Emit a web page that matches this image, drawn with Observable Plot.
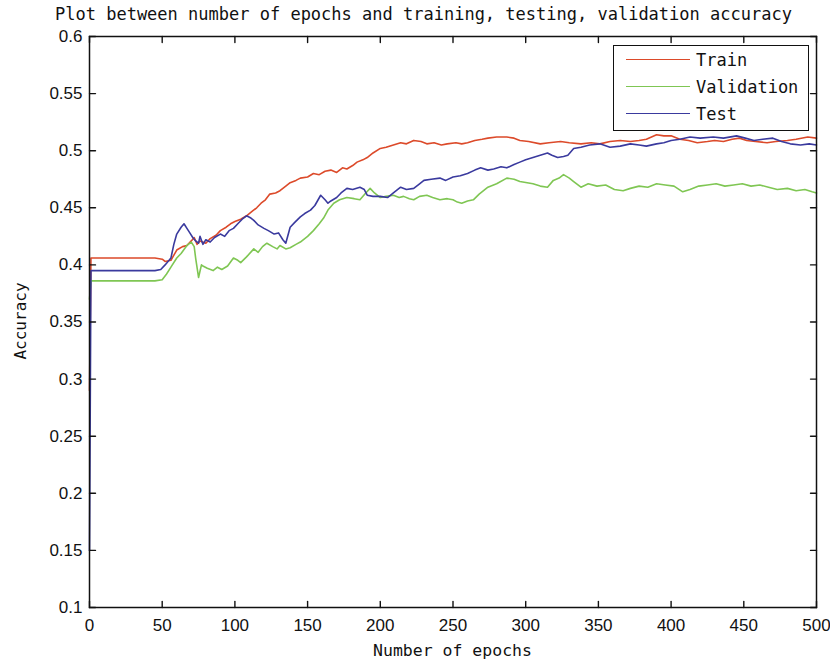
<!DOCTYPE html>
<html>
<head>
<meta charset="utf-8">
<script src="https://cdn.jsdelivr.net/npm/d3@7"></script>
<script src="https://cdn.jsdelivr.net/npm/@observablehq/plot@0.6"></script>
<style>
  body { margin: 0; background: #fff; }
  #wrap { position: relative; width: 830px; height: 664px; overflow: hidden; background: #fff; }
  .mono { font-family: "DejaVu Sans Mono", monospace; color: #111; position: absolute; white-space: nowrap; }
  #title { left: 55px; top: 4px; font-size: 17px; }
  #xlabel { left: 0; width: 905px; text-align: center; top: 641px; font-size: 16.5px; }
  #ylabel { left: 20px; top: 321px; font-size: 16px; transform: translate(-50%, -50%) rotate(-90deg); }
  #legend { position: absolute; left: 613px; top: 45px; width: 194px; height: 84px; border: 1.5px solid #111; background: #fff; }
  .row { position: absolute; left: 0; height: 20px; }
  .row span.sw { position: absolute; left: 12px; top: 9px; width: 64px; height: 0; border-top: 1.6px solid; }
  .row span.tx { position: absolute; left: 82px; top: 0; font-family: "DejaVu Sans Mono", monospace; font-size: 17px; color: #111; }
</style>
</head>
<body>
<div id="wrap">
  <div id="title" class="mono">Plot between number of epochs and training, testing, validation accuracy</div>
  <div id="chart"></div>
  <div id="xlabel" class="mono">Number of epochs</div>
  <div id="ylabel" class="mono">Accuracy</div>
  <div id="legend"></div>
</div>
<script>
// ---- data ----
const seriesNames = ["Train", "Validation", "Test"];
const seriesColors = ["#dc4a2a", "#7fc653", "#3a3a9e"];

const trainEpochs = [0,1,2,45,50,52,56,60,64,67,70,72,74,76,80,83,87,90,94,97,100,104,108,112,115,118,121,124,128,131,135,138,142,145,150,154,158,162,166,170,174,177,181,184,188,191,195,200,204,209,214,218,223,228,232,237,242,246,252,256,260,265,270,274,280,287,292,296,302,310,316,324,330,338,345,351,358,365,372,378,383,390,395,400,406,412,418,425,430,436,442,447,452,458,466,472,480,486,494,500];
const trainAcc = [0.29,0.406,0.406,0.406,0.405,0.403,0.404,0.413,0.416,0.417,0.421,0.424,0.418,0.421,0.419,0.423,0.426,0.430,0.433,0.436,0.438,0.440,0.443,0.447,0.450,0.454,0.457,0.462,0.463,0.465,0.469,0.472,0.474,0.476,0.477,0.480,0.479,0.482,0.483,0.481,0.485,0.484,0.487,0.490,0.492,0.494,0.498,0.502,0.503,0.505,0.507,0.506,0.509,0.508,0.506,0.507,0.505,0.506,0.507,0.506,0.507,0.509,0.510,0.511,0.512,0.512,0.511,0.509,0.508,0.506,0.507,0.508,0.507,0.506,0.507,0.506,0.508,0.509,0.508,0.509,0.510,0.514,0.513,0.513,0.510,0.509,0.507,0.508,0.509,0.508,0.510,0.511,0.509,0.508,0.507,0.508,0.509,0.510,0.512,0.511];

const testEpochs = [0,1,2,45,49,52,56,58,60,63,65,67,69,71,73,75,76,78,80,83,86,90,93,96,99,102,105,108,111,113,116,120,123,127,130,133,135,138,141,145,148,152,155,159,162,164,166,170,173,177,181,186,189,191,195,200,205,209,214,218,223,227,230,235,241,245,250,255,260,265,269,274,278,283,287,292,296,300,305,310,315,318,322,326,329,333,338,344,351,358,365,372,378,383,390,395,400,406,413,420,429,436,445,451,457,463,470,476,482,489,495,500];
const testAcc = [0.15,0.395,0.395,0.395,0.396,0.400,0.406,0.418,0.427,0.433,0.436,0.432,0.428,0.424,0.421,0.419,0.425,0.418,0.422,0.420,0.424,0.427,0.425,0.430,0.432,0.436,0.440,0.443,0.441,0.439,0.435,0.432,0.430,0.427,0.428,0.422,0.419,0.433,0.437,0.442,0.445,0.448,0.452,0.461,0.457,0.454,0.456,0.459,0.463,0.467,0.466,0.468,0.466,0.461,0.460,0.460,0.459,0.463,0.468,0.466,0.467,0.471,0.474,0.475,0.476,0.474,0.477,0.478,0.480,0.483,0.485,0.483,0.484,0.486,0.485,0.488,0.490,0.492,0.494,0.496,0.498,0.496,0.494,0.495,0.496,0.502,0.503,0.505,0.506,0.503,0.504,0.506,0.505,0.504,0.506,0.507,0.509,0.510,0.512,0.511,0.512,0.511,0.513,0.511,0.509,0.510,0.511,0.508,0.506,0.505,0.506,0.505];

const valEpochs = [0,1,2,45,50,53,56,60,63,67,70,72,73,75,77,78,81,85,88,91,95,99,102,104,108,113,116,119,122,126,129,131,135,138,142,145,150,154,158,161,164,168,172,177,182,186,190,193,196,200,204,209,213,216,220,223,227,232,236,241,246,250,253,256,260,264,268,274,280,287,292,296,301,305,310,315,319,323,326,330,333,338,343,349,355,361,367,372,378,384,390,396,402,408,413,419,425,431,437,443,449,455,461,467,473,480,486,492,497,500];
const valAcc = [0.37,0.386,0.386,0.386,0.387,0.392,0.398,0.406,0.410,0.417,0.420,0.416,0.406,0.389,0.400,0.399,0.397,0.395,0.398,0.396,0.399,0.406,0.404,0.402,0.407,0.414,0.411,0.416,0.419,0.416,0.414,0.417,0.414,0.415,0.418,0.420,0.425,0.430,0.436,0.441,0.448,0.454,0.457,0.459,0.458,0.457,0.463,0.467,0.463,0.459,0.460,0.461,0.459,0.460,0.458,0.457,0.460,0.461,0.459,0.457,0.458,0.457,0.455,0.454,0.456,0.457,0.462,0.468,0.471,0.476,0.475,0.473,0.472,0.471,0.469,0.468,0.474,0.476,0.479,0.476,0.473,0.468,0.471,0.469,0.470,0.466,0.465,0.467,0.469,0.468,0.471,0.470,0.469,0.464,0.466,0.469,0.470,0.471,0.469,0.470,0.471,0.469,0.470,0.468,0.466,0.467,0.465,0.466,0.464,0.463];

const xTicks = [0,50,100,150,200,250,300,350,400,450,500];
const yTicks = [0.1,0.15,0.2,0.25,0.3,0.35,0.4,0.45,0.5,0.55,0.6];

// ---- build table ----
const rows = [];
trainEpochs.forEach((e, i) => rows.push({series: "Train", epoch: e, acc: trainAcc[i]}));
valEpochs.forEach((e, i) => rows.push({series: "Validation", epoch: e, acc: valAcc[i]}));
testEpochs.forEach((e, i) => rows.push({series: "Test", epoch: e, acc: testAcc[i]}));

const fmt = d => String(+d.toFixed(2));
const T = 6; // inward tick length
const lineShape = {draw(context, l) { context.moveTo(0, 0); context.lineTo(0, -l); }};
const tickStyle = {length: T, anchor: "start", shape: lineShape, stroke: "#111", strokeWidth: 1.4};

const chart = Plot.plot({
  width: 830,
  height: 664,
  marginTop: 36,
  marginBottom: 57,
  marginLeft: 89,
  marginRight: 14,
  style: {fontFamily: "'Liberation Sans', Arial, sans-serif", fontSize: "17px", color: "#111", background: "#fff"},
  x: {domain: [0, 500]},
  y: {domain: [0.1, 0.6]},
  color: {domain: seriesNames, range: seriesColors},
  marks: [
    Plot.lineY(rows, {x: "epoch", y: "acc", z: "series", stroke: "series", strokeWidth: 1.6}),
    // inward ticks on all four sides
    Plot.vector(xTicks, {x: d => d, frameAnchor: "bottom", rotate: 0, ...tickStyle}),
    Plot.vector(xTicks, {x: d => d, frameAnchor: "top", rotate: 180, ...tickStyle}),
    Plot.vector(yTicks, {y: d => d, frameAnchor: "left", rotate: 90, ...tickStyle}),
    Plot.vector(yTicks, {y: d => d, frameAnchor: "right", rotate: -90, ...tickStyle}),
    // tick labels
    Plot.axisX({anchor: "bottom", ticks: xTicks, tickSize: 0, tickPadding: 11, tickFormat: d => String(d), label: null}),
    Plot.axisY({anchor: "left", ticks: yTicks, tickSize: 0, tickPadding: 7, tickFormat: fmt, label: null}),
    Plot.frame({stroke: "#111", strokeWidth: 1.5})
  ]
});
document.getElementById("chart").appendChild(chart);

// ---- legend ----
const legend = document.getElementById("legend");
const legendOrder = ["Train", "Validation", "Test"];
legendOrder.forEach((name, i) => {
  const r = document.createElement("div");
  r.className = "row";
  r.style.top = (4 + i * 27) + "px";
  const sw = document.createElement("span");
  sw.className = "sw";
  sw.style.borderTopColor = seriesColors[seriesNames.indexOf(name)];
  const tx = document.createElement("span");
  tx.className = "tx";
  tx.textContent = name;
  r.appendChild(sw); r.appendChild(tx);
  legend.appendChild(r);
});
</script>
</body>
</html>
